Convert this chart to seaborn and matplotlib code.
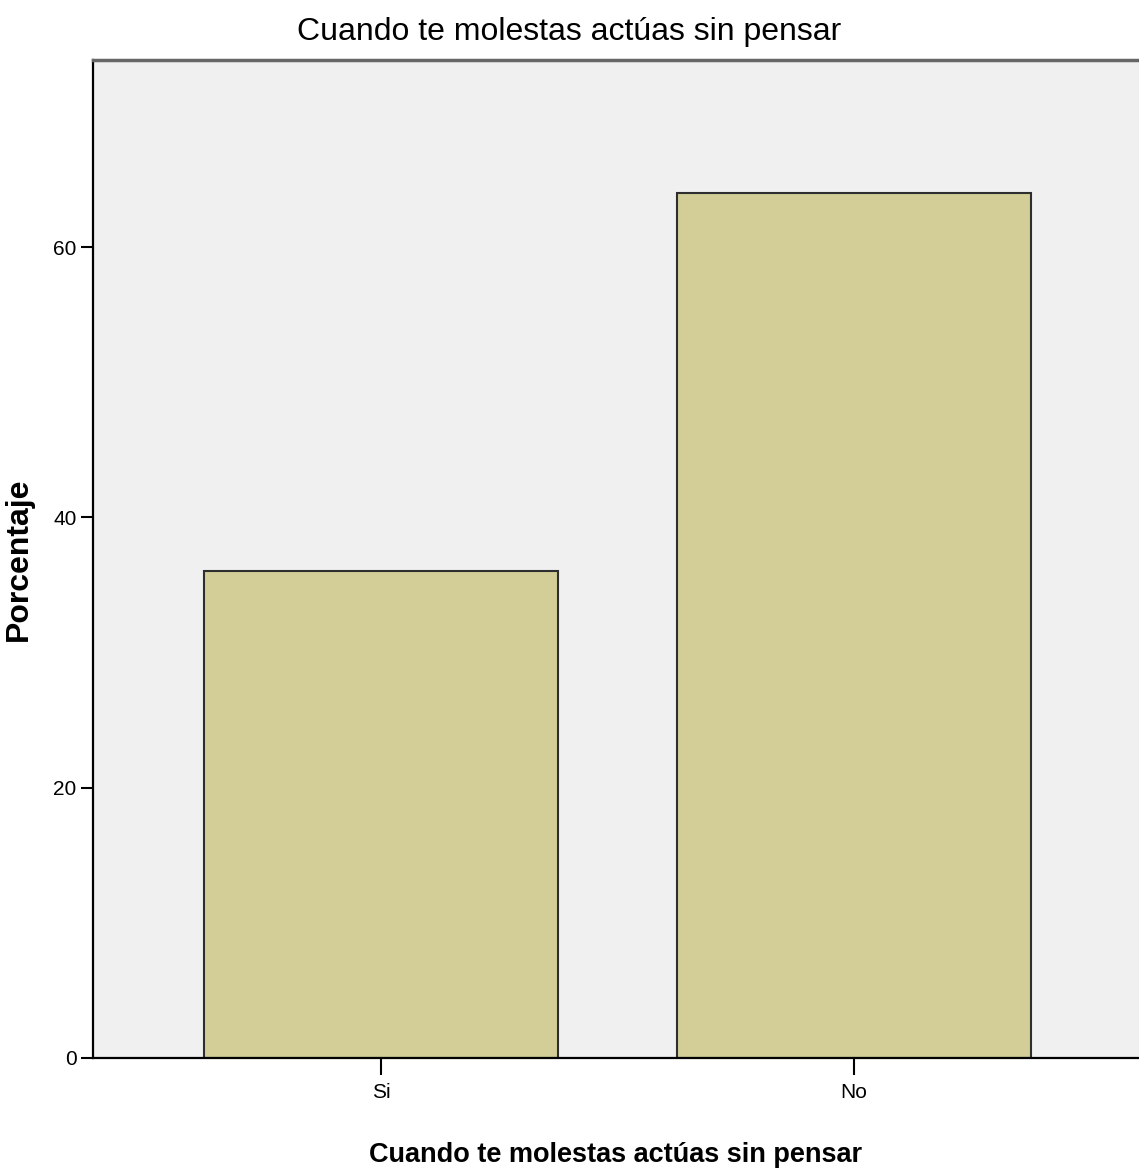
import matplotlib
matplotlib.use("Agg")
import matplotlib.pyplot as plt
import seaborn as sns
import pandas as pd

# Datos
categorias = ["Si", "No"]
porcentajes = [36.0, 64.0]
ticks_y = [0, 20, 40, 60]
titulo = "Cuando te molestas actúas sin pensar"

sns.set_style("white")
plt.rcParams["font.family"] = ["Liberation Sans", "DejaVu Sans"]
plt.rcParams["text.color"] = "black"
plt.rcParams["axes.labelcolor"] = "black"

df = pd.DataFrame({"cat": categorias, "pct": porcentajes})

fig = plt.figure(figsize=(11.39, 11.71), dpi=100)
ax = fig.add_axes([0.0817, 0.0965, 0.9183, 0.8523])
ax.set_facecolor("#F0F0F0")

sns.barplot(data=df, x="cat", y="pct", color="#D3CE97", edgecolor="#2e2e2e",
            linewidth=1.5, width=0.75, saturation=1, ax=ax)

ax.set_xlim(-0.609, 1.603)
ax.set_ylim(0, 73.85)
ax.set_yticks(ticks_y)
ax.tick_params(axis="both", direction="out", width=1.5, color="black",
               labelcolor="black", labelsize=15, bottom=True, left=True)
ax.tick_params(axis="y", length=9, pad=3)
ax.tick_params(axis="x", length=12, pad=6)

for s in ["left", "bottom"]:
    ax.spines[s].set_color("black")
    ax.spines[s].set_linewidth(1.6)
ax.spines["top"].set_color("#666666")
ax.spines["top"].set_linewidth(2.5)
ax.spines["right"].set_visible(False)

ax.set_xlabel(titulo, fontsize=19.5, fontweight="bold", labelpad=29)
ax.set_ylabel("Porcentaje", fontsize=23, fontweight="bold")
ax.yaxis.set_label_coords(-0.057, 0.5)
fig.text(0.5, 1 - 40 / 1171, titulo, fontsize=23, ha="center", va="baseline")

fig.savefig("out.png", dpi=100)
